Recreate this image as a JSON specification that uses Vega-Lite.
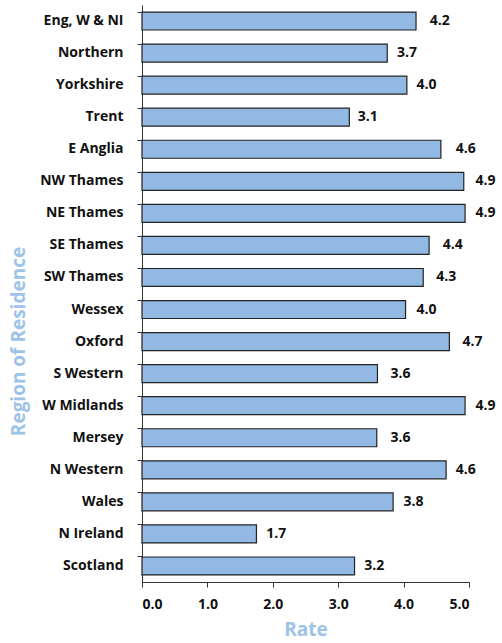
{
  "$schema": "https://vega.github.io/schema/vega-lite/v6.json",
  "autosize": "none",
  "width": 327,
  "height": 577,
  "padding": {"left": 142, "top": 5, "right": 33, "bottom": 61},
  "config": {"view": {"stroke": null}, "font": "Open Sans"},
  "data": {"values": [
    {"region": "Eng, W & NI", "rate": 4.19, "label": 4.2},
    {"region": "Northern", "rate": 3.75, "label": 3.7},
    {"region": "Yorkshire", "rate": 4.05, "label": 4.0},
    {"region": "Trent", "rate": 3.17, "label": 3.1},
    {"region": "E Anglia", "rate": 4.57, "label": 4.6},
    {"region": "NW Thames", "rate": 4.92, "label": 4.9},
    {"region": "NE Thames", "rate": 4.94, "label": 4.9},
    {"region": "SE Thames", "rate": 4.39, "label": 4.4},
    {"region": "SW Thames", "rate": 4.30, "label": 4.3},
    {"region": "Wessex", "rate": 4.03, "label": 4.0},
    {"region": "Oxford", "rate": 4.70, "label": 4.7},
    {"region": "S Western", "rate": 3.60, "label": 3.6},
    {"region": "W Midlands", "rate": 4.94, "label": 4.9},
    {"region": "Mersey", "rate": 3.59, "label": 3.6},
    {"region": "N Western", "rate": 4.65, "label": 4.6},
    {"region": "Wales", "rate": 3.84, "label": 3.8},
    {"region": "N Ireland", "rate": 1.75, "label": 1.7},
    {"region": "Scotland", "rate": 3.25, "label": 3.2}
  ]},
  "encoding": {
    "y": {
      "field": "region", "type": "nominal", "sort": null,
      "scale": {"paddingInner": 0.44, "paddingOuter": 0.22},
      "axis": {
        "title": "Region of Residence",
        "titleColor": "#9dc3e6", "titleFontSize": 19, "titleFontWeight": "bold",
        "titleFont": "Open Sans",
        "titleX": -124, "titleY": 336, "titleAngle": -90, "titleAlign": "center", "titleBaseline": "middle",
        "labelFontSize": 14, "labelFontWeight": "bold", "labelColor": "#111111", "labelFont": "Open Sans",
        "labelPadding": 14, "tickSize": 5, "tickColor": "#333333", "domainColor": "#333333",
        "bandPosition": 0, "grid": false
      }
    }
  },
  "layer": [
    {
      "mark": {"type": "bar", "fill": "#92b9e3", "stroke": "#222222", "strokeWidth": 1.2},
      "encoding": {
        "x": {
          "field": "rate", "type": "quantitative",
          "scale": {"domain": [0, 5], "nice": false, "zero": true},
          "axis": {
            "title": "Rate", "titleColor": "#9dc3e6", "titleFontSize": 19, "titleFontWeight": "bold",
            "titleFont": "Open Sans", "titlePadding": 9,
            "values": [0, 1, 2, 3, 4, 5], "format": ".1f",
            "labelFontSize": 14, "labelFontWeight": "bold", "labelColor": "#111111", "labelFont": "Open Sans",
            "labelPadding": 10, "tickSize": 5, "tickColor": "#333333", "domainColor": "#333333",
            "grid": false
          }
        }
      }
    },
    {
      "mark": {"type": "text", "align": "left", "baseline": "middle", "dx": 13, "fontSize": 14, "fontWeight": "bold", "color": "#111111", "font": "Open Sans"},
      "encoding": {
        "x": {"field": "label", "type": "quantitative"},
        "text": {"field": "label", "type": "quantitative", "format": ".1f"}
      }
    }
  ]
}
